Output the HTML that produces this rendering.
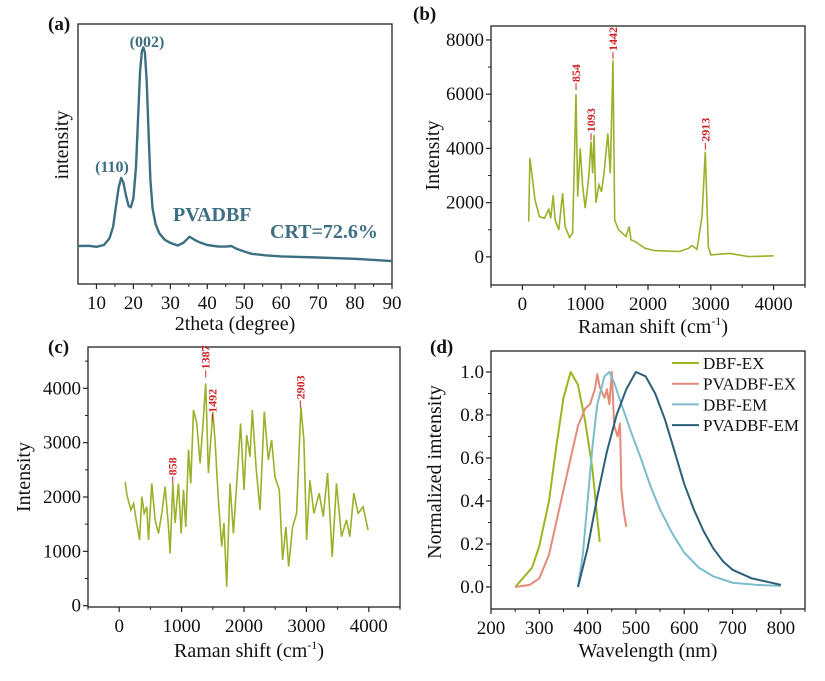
<!DOCTYPE html>
<html><head><meta charset="utf-8">
<style>
html,body{margin:0;padding:0;background:#fff;}
svg{display:block;font-family:"Liberation Serif",serif;}
svg text{font-family:"Liberation Serif",serif;}
</style></head>
<body>
<svg id="fig" width="825" height="681" viewBox="0 0 825 681" xmlns="http://www.w3.org/2000/svg" font-family="Liberation Serif, serif"></svg>
<script>
// ---------- Panel (a) XRD ----------
const aX=[5,8,10,12,13.5,14.5,15.3,16,16.7,17.3,18,18.7,19.3,20,20.7,21.3,21.8,22.3,22.7,23.1,23.6,24.1,24.6,25.2,26,27,28.5,30,32,33.5,35.2,36.5,38,40,43,45,46.5,48,50,52,56,60,70,80,90];
const aY=[14.6,14.7,14.3,15,17.5,22,30,37,40.8,39,34,30,29.5,33,45,65,82,89.5,91,89,78,58,40,29,23,19.5,17,15.8,14.8,15.8,18.2,17,16,15,14.4,14.4,14.6,13.5,12.5,11.6,11,10.6,10.2,9.7,8.8];
// ---------- Panel (b) Raman ----------
const bX=[100,120,150,200,270,350,420,450,490,520,580,640,680,750,800,854,880,920,960,1000,1030,1060,1093,1120,1140,1170,1220,1260,1300,1360,1400,1442,1470,1530,1650,1700,1730,1800,1950,2100,2500,2650,2700,2780,2860,2913,2960,3000,3300,3600,4000];
const bY=[1300,3640,3080,2100,1490,1420,1750,1420,2280,1360,1000,2350,1120,720,870,6000,2220,4000,2600,1800,2400,3080,4250,3080,4500,2000,2650,2400,3080,4550,3080,7250,1360,1000,750,1120,630,560,320,230,200,320,420,280,1490,3880,380,75,130,10,40];
const bPeaks=[854,1093,1442,2913];
const bPeakVals=[6150,4300,7300,3950];
// ---------- Panel (c) Raman ----------
const cX=[96,123,187,230,270,325,363,400,443,470,523,576,630,683,736,790,816,859,896,950,992,1030,1067,1110,1147,1190,1243,1296,1339,1387,1430,1500,1536,1590,1643,1680,1723,1776,1830,1883,1946,2000,2043,2096,2133,2192,2256,2325,2390,2443,2496,2565,2619,2672,2715,2779,2843,2912,2960,3003,3056,3120,3205,3269,3339,3413,3483,3563,3643,3696,3760,3829,3909,3989];
const cY=[2280,2040,1760,1880,1600,1210,2010,1700,1820,1210,2250,1580,1330,1700,2190,1450,960,2250,1520,2250,1330,2130,1450,2870,2250,3600,3350,2620,3290,4090,2440,3570,3050,1940,1090,1520,350,2250,1330,2250,3350,2130,3140,2740,3600,2560,1760,3570,2680,3050,2370,2130,840,1450,720,1450,1700,3660,3050,1210,2310,1700,2070,1640,2440,900,2250,1270,1580,1270,2070,1700,1820,1390];
const cPeaks=[858,1387,1492,2903];
const cPeakVals=[2250,4200,3400,3650];
// ---------- Panel (d) PL ----------
const dSeries=["DBF-EX","PVADBF-EX","DBF-EM","PVADBF-EM"];
const d1X=[250,285,300,320,335,350,365,380,395,410,425];
const d1Y=[0,0.09,0.19,0.40,0.65,0.88,1.0,0.94,0.77,0.55,0.21];
const d2X=[250,280,300,320,340,360,380,395,405,415,420,425,435,440,445,450,455,462,467,470,475,480];
const d2Y=[0,0.01,0.04,0.15,0.35,0.55,0.75,0.83,0.85,0.92,0.99,0.93,0.88,0.92,0.85,1.0,0.75,0.70,0.76,0.45,0.35,0.28];
const d3X=[380,390,400,410,420,435,445,455,470,490,510,530,550,575,600,630,660,700,750,800];
const d3Y=[0,0.15,0.40,0.65,0.85,0.98,1.0,0.95,0.85,0.72,0.60,0.47,0.36,0.25,0.16,0.09,0.05,0.02,0.01,0.005];
const d4X=[380,400,420,440,460,480,500,520,540,560,580,600,620,640,660,680,700,740,780,800];
const d4Y=[0,0.18,0.42,0.63,0.80,0.92,1.0,0.98,0.90,0.78,0.63,0.48,0.36,0.26,0.18,0.12,0.08,0.04,0.02,0.01];

const NS="http://www.w3.org/2000/svg";
const svg=document.getElementById('fig');
const FF='Liberation Serif, serif';
function mk(tag,attrs,parent,txt){const e=document.createElementNS(NS,tag);for(const k in attrs)e.setAttribute(k,attrs[k]);if(tag==='text')e.setAttribute('font-family',FF);if(txt!==undefined)e.textContent=txt;(parent||svg).appendChild(e);return e;}
function lin(d0,d1,r0,r1){return v=>r0+(v-d0)*(r1-r0)/(d1-d0);}
function path(xs,ys,sx,sy){return xs.map((x,i)=>(i?'L':'M')+sx(x).toFixed(1)+','+sy(ys[i]).toFixed(1)).join(' ');}

function axes(g,box,xt,yt,sx,sy,xminor,yminor,fs,yfmt){
  const r=mk('rect',{x:box.l,y:box.t,width:box.r-box.l,height:box.b-box.t,fill:'none',stroke:'#222','stroke-width':1.3},g);
  
  xt.forEach(v=>{const x=sx(v);
    const t=mk('line',{x1:x,x2:x,y1:box.b,y2:box.b+5,stroke:'#222','stroke-width':1.2},g);
    
    const l=mk('text',{x:x,y:box.b+25,'font-size':fs,'text-anchor':'middle',fill:'#111'},g,String(v));
    });
  xminor.forEach(v=>{const x=sx(v);mk('line',{x1:x,x2:x,y1:box.b,y2:box.b+3,stroke:'#222','stroke-width':1},g);});
  yt.forEach(v=>{const y=sy(v);
    const t=mk('line',{x1:box.l-5,x2:box.l,y1:y,y2:y,stroke:'#222','stroke-width':1.2},g);
    
    const l=mk('text',{x:box.l-7,y:y+6,'font-size':fs,'text-anchor':'end',fill:'#111'},g,yfmt?yfmt(v):String(v));
    });
  yminor.forEach(v=>{const y=sy(v);mk('line',{x1:box.l-3,x2:box.l,y1:y,y2:y,stroke:'#222','stroke-width':1},g);});
}

// Panel a
(function(){
  const g=mk('g',{id:'pa'});
  const box={l:78,t:24,r:392,b:284};
  const sx=lin(5,90,box.l,box.r), sy=lin(0,100,box.b,box.t);
  axes(g,box,[10,20,30,40,50,60,70,80,90],[],sx,sy,[15,25,35,45,55,65,75,85],[],19);
  const p=mk('path',{d:path(aX,aY,sx,sy),fill:'none',stroke:'#3d6f82','stroke-width':2.4,'stroke-linejoin':'round'},g);
  
  const c='#3d6f82';
  let t;
  t=mk('text',{x:48,y:30,'font-size':19,'font-weight':'bold',fill:'#111'},g,'(a)');
  t=mk('text',{x:147,y:47,'font-size':16,'font-weight':'bold','text-anchor':'middle',fill:c},g,'(002)');
  t=mk('text',{x:112,y:172,'font-size':16,'font-weight':'bold','text-anchor':'middle',fill:c},g,'(110)');
  t=mk('text',{x:173,y:221,'font-size':20,'font-weight':'bold',fill:c},g,'PVADBF');
  t=mk('text',{x:270,y:238,'font-size':20,'font-weight':'bold',fill:c},g,'CRT=72.6%');
  t=mk('text',{x:235,y:330,'font-size':20,'text-anchor':'middle',fill:'#111'},g,'2theta (degree)');
  t=mk('text',{x:0,y:0,'font-size':20,'text-anchor':'middle',fill:'#111',transform:'translate(68,145) rotate(-90)'},g,'intensity');
})();

function raman(id,name,box,sx,sy,xs,ys,peaks,pvals,yt,yminor,xtitleY,ytitleX,label,labXY){
  const g=mk('g',{id:id});
  axes(g,box,[0,1000,2000,3000,4000],yt,sx,sy,[-500,500,1500,2500,3500,4500],yminor,19);
  const p=mk('path',{d:path(xs,ys,sx,sy),fill:'none',stroke:'#9bb12a','stroke-width':1.6},g);
  
  peaks.forEach((pk,i)=>{
    const x=sx(pk), y=sy(pvals[i]);
    const l=mk('line',{x1:x,x2:x,y1:y,y2:y-7,stroke:'#d0242a','stroke-width':1},g);
    
    const t=mk('text',{x:0,y:0,'font-size':12,'font-weight':'bold',fill:'#d0242a',transform:'translate('+(x+4)+','+(y-8)+') rotate(-90)'},g,String(pk));
    
  });
  let t=mk('text',{x:labXY[0],y:labXY[1],'font-size':19,'font-weight':'bold',fill:'#111'},g,label);
  t=mk('text',{x:(box.l+box.r)/2+5,y:xtitleY,'font-size':20,'text-anchor':'middle',fill:'#111'},g,'Raman shift (cm');
  mk('tspan',{dy:-8,'font-size':12},t,'-1');mk('tspan',{dy:8},t,')');
  t=mk('text',{x:0,y:0,'font-size':20,'text-anchor':'middle',fill:'#111',transform:'translate('+ytitleX+','+((box.t+box.b)/2)+') rotate(-90)'},g,'Intensity');
}
{
  const box={l:491,t:26,r:805,b:285};
  raman('pb','panel-b-raman-dbf',box,lin(-500,4500,box.l,box.r),lin(-1000,8500,284,26.4),bX,bY,bPeaks,bPeakVals,[0,2000,4000,6000,8000],[1000,3000,5000,7000],333,439,'(b)',[413,20]);
}
{
  const box={l:88,t:347,r:400,b:607};
  raman('pc','panel-c-raman-pvadbf',box,lin(-500,4500,box.l,box.r),lin(0,4000,605.7,388.3),cX,cY,cPeaks,cPeakVals,[0,1000,2000,3000,4000],[500,1500,2500,3500,4500],657,30,'(c)',[48,353]);
}

// Panel d
(function(){
  const g=mk('g',{id:'pd'});
  const box={l:491,t:351,r:805,b:609};
  const sx=lin(200,850,box.l,box.r), sy=lin(0,1,587,372);
  axes(g,box,[200,300,400,500,600,700,800],[0,0.2,0.4,0.6,0.8,1.0],sx,sy,[250,350,450,550,650,750,850],[0.1,0.3,0.5,0.7,0.9],19,v=>v.toFixed(1));
  const cols=['#9bb61e','#e58a78','#7bbccd','#2d5f78'];
  const XS=[d1X,d2X,d3X,d4X], YS=[d1Y,d2Y,d3Y,d4Y];
  XS.forEach((xs,i)=>{
    const p=mk('path',{d:path(xs,YS[i],sx,sy),fill:'none',stroke:cols[i],'stroke-width':2,'stroke-linejoin':'round'},g);
    
    const ly=363+i*20.7;
    const l=mk('line',{x1:672,x2:699,y1:ly,y2:ly,stroke:cols[i],'stroke-width':2},g);
    
    const t=mk('text',{x:703,y:ly+6,'font-size':17,fill:'#111'},g,dSeries[i]);
    
  });
  let t=mk('text',{x:430,y:353,'font-size':19,'font-weight':'bold',fill:'#111'},g,'(d)');
  t=mk('text',{x:648,y:657,'font-size':20,'text-anchor':'middle',fill:'#111'},g,'Wavelength (nm)');
  t=mk('text',{x:0,y:0,'font-size':20,'text-anchor':'middle',fill:'#111',transform:'translate(441,472) rotate(-90)'},g,'Normalized imtensity');
})();
</script>
</body></html>
